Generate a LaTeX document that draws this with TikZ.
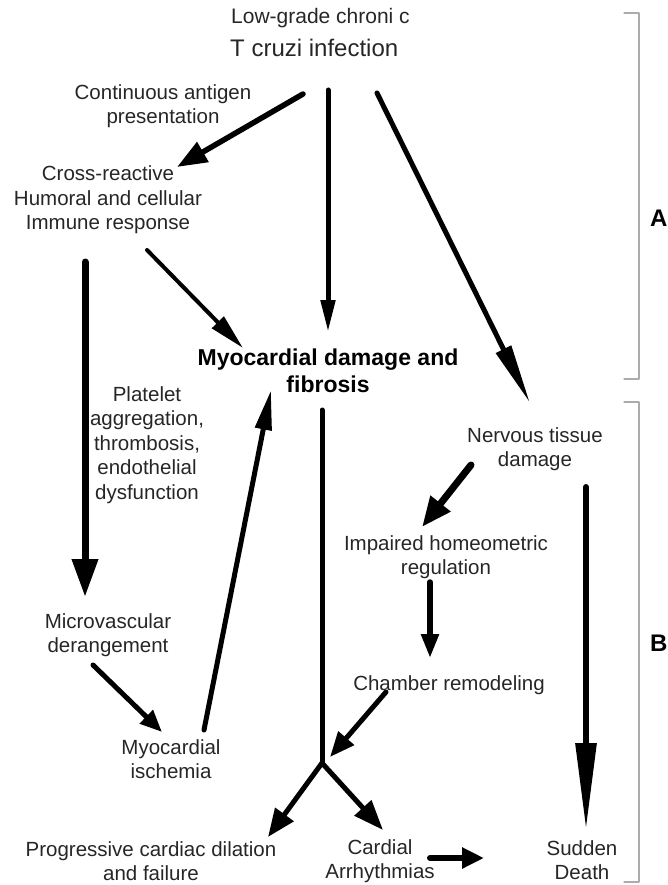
\documentclass[tikz,border=0pt]{standalone}
\usepackage{fontspec}
\setmainfont{Liberation Sans}
\usetikzlibrary{arrows.meta,positioning}
\tikzset{
  every picture/.append style={line cap=round,line join=round},
  cz text/.style={font=\fontsize{20.5}{24.5}\selectfont,align=center,inner sep=0pt,text=black!85},
  cz title/.style={font=\fontsize{21}{25}\selectfont,inner sep=0pt,anchor=west,text=black!85},
  cz bold/.style={font=\fontsize{23}{27}\selectfont\bfseries,align=center,inner sep=0pt},
  cz part/.style={font=\fontsize{24}{28}\selectfont\bfseries,inner sep=0pt,anchor=west},
  cz tip/.style 2 args={-{Triangle[length=#1,width=#2]}},
  cz arrow/.style={line width=5pt,cz tip={28pt}{20pt}},
  cz heavy/.style={line width=7pt,cz tip={38pt}{25pt}},
  cz long/.style={line width=5pt,cz tip={60pt}{16pt}},
  cz bracket/.style={gray!65,line width=1.3pt}
}

\begin{document}
\begin{tikzpicture}[x=1pt,y=-1pt]
  \useasboundingbox (0,0) rectangle (668,885);

  % nodes
  \node[cz title] (inftop) at (231,18) {Low-grade chroni c};
  \node[cz title,font=\fontsize{24}{28}\selectfont] (infection) at (230,48) {T cruzi infection};
  \node[cz text] (antigen) at (163,106) {Continuous antigen\\presentation};
  \node[cz text] (immune) at (108,200) {Cross-reactive\\Humoral and cellular\\Immune response};
  \node[cz bold] (myo) at (328,371) {Myocardial damage and\\fibrosis};
  \node[cz text] (platelet) at (147,445) {Platelet\\aggregation,\\thrombosis,\\endothelial\\dysfunction};
  \node[cz text] (nervous) at (535,449) {Nervous tissue\\damage};
  \node[cz text] (impaired) at (446,557) {Impaired homeometric\\regulation};
  \node[cz text] (micro) at (108,635) {Microvascular\\derangement};
  \node[cz text] (chamber) at (449,685) {Chamber remodeling};
  \node[cz text] (ischemia) at (171,759) {Myocardial\\ischemia};
  \node[cz text] (failure) at (151,861) {Progressive cardiac dilation\\and failure};
  \node[cz text] (arrhythmia) at (380,861) {Cardial\\Arrhythmias};
  \node[cz text] (death) at (582,860) {Sudden\\Death};
  \node[cz part] (partA) at (650,218) {A};
  \node[cz part] (partB) at (650,643) {B};

  % arrow ends
  \coordinate (inf-l) at (303,94);
  \coordinate (inf-m) at (328,90);
  \coordinate (inf-r) at (377,93);
  \coordinate (imm-in) at (177,167);
  \coordinate (imm-out) at (147,250);
  \coordinate (imm-down) at (85,262);
  \coordinate (myo-top) at (328,332);
  \coordinate (myo-left) at (243,348);
  \coordinate (myo-low) at (271,390);
  \coordinate (myo-out) at (322,410);
  \coordinate (nerv-in) at (530,403);
  \coordinate (nerv-out) at (471,465);
  \coordinate (nerv-down) at (586,487);
  \coordinate (imp-in) at (422,527);
  \coordinate (imp-out) at (430,582);
  \coordinate (mic-in) at (85,597);
  \coordinate (mic-out) at (93,665);
  \coordinate (ch-in) at (430,658);
  \coordinate (ch-out) at (386,692);
  \coordinate (isc-in) at (162,732);
  \coordinate (isc-out) at (204,730);
  \coordinate (junction) at (322,763);
  \coordinate (junc-in) at (330,757);
  \coordinate (fail-in) at (268,837);
  \coordinate (arr-in) at (383,830);
  \coordinate (arr-out) at (430,858);
  \coordinate (dth-in) at (484,858);
  \coordinate (dth-top) at (586,830);

  % connectors
  \draw[cz arrow,line width=5.5pt,cz tip={30pt}{22pt}] (inf-l) -- (imm-in);
  \draw[cz arrow,cz tip={32pt}{14pt}] (inf-m) -- (myo-top);
  \draw[cz long] (inf-r) -- (nerv-in);
  \draw[cz arrow,line width=4pt,cz tip={36pt}{16pt}] (imm-out) -- (myo-left);
  \draw[cz heavy] (imm-down) -- (mic-in);
  \draw[cz arrow,cz tip={40pt}{16pt}] (isc-out) -- (myo-low);
  \draw[line width=5pt] (myo-out) -- (junction);
  \draw[cz heavy,cz tip={30pt}{24pt}] (nerv-out) -- (imp-in);
  \draw[cz arrow,line width=5.5pt,cz tip={24pt}{17pt}] (imp-out) -- (ch-in);
  \draw[cz arrow,line width=6pt,cz tip={87pt}{20pt}] (nerv-down) -- (dth-top);
  \draw[cz arrow,cz tip={22pt}{18pt}] (mic-out) -- (isc-in);
  \draw[cz arrow,cz tip={25pt}{20pt}] (ch-out) -- (junc-in);
  \draw[cz arrow,cz tip={28pt}{22pt}] (junction) -- (fail-in);
  \draw[cz arrow,cz tip={30pt}{22pt}] (junction) -- (arr-in);
  \draw[cz arrow,line width=6pt,cz tip={22pt}{20pt}] (arr-out) -- (dth-in);

  % brackets
  \draw[cz bracket] (624,13) -- (639,13) -- (639,379) -- (624,379);
  \draw[cz bracket] (624,402) -- (639,402) -- (639,882) -- (624,882);
\end{tikzpicture}
\end{document}
